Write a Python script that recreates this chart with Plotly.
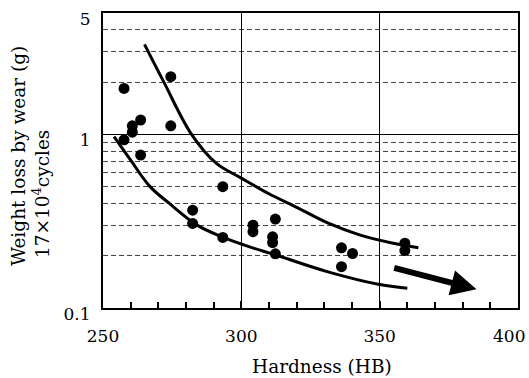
import numpy as np
import plotly.graph_objects as go

# Data points: hardness (HB) vs weight loss (g)
hardness = [257.6, 274.5, 257.6, 260.6, 260.6, 263.6, 274.5, 263.6, 293.3,
            282.4, 282.4, 293.3, 304.2, 304.2, 312.3, 311.3, 311.3, 312.3,
            336.2, 340.2, 336.2, 359.1, 359.1]
weight_loss = [1.84, 2.15, 0.93, 1.03, 1.12, 1.21, 1.12, 0.76, 0.50,
               0.366, 0.307, 0.255, 0.30, 0.275, 0.325, 0.257, 0.238, 0.205,
               0.222, 0.206, 0.173, 0.236, 0.214]

# Upper band curve
upper_x = [265, 272, 282, 291, 300, 310, 320, 331, 343, 355, 364]
upper_y = [3.3, 2.0, 1.0, 0.68, 0.56, 0.455, 0.38, 0.31, 0.263, 0.236, 0.222]

# Lower band curve
lower_x = [254, 260, 267, 274, 284, 293, 303, 312, 331, 349.5, 360]
lower_y = [0.97, 0.71, 0.5, 0.4, 0.3, 0.257, 0.225, 0.203, 0.162, 0.137, 0.130]

# Trend arrow (start, end)
arrow_x = [354.7, 385.0]
arrow_y = [0.171, 0.128]

x_ticks = [250, 300, 350, 400]
x_ticktext = ["250", "300", "350", "400"]
y_ticks = [0.1, 1, 5]
y_ticktext = ["0.1", "1", "5"]
y_minor = [0.2, 0.3, 0.4, 0.5, 0.6, 0.7, 0.8, 0.9, 2, 3, 4]

FONT = "DejaVu Serif"

fig = go.Figure()
fig.add_trace(go.Scatter(x=upper_x, y=upper_y, mode="lines",
                         line=dict(color="black", width=3, shape="spline", smoothing=1.0),
                         showlegend=False, hoverinfo="skip"))
fig.add_trace(go.Scatter(x=lower_x, y=lower_y, mode="lines",
                         line=dict(color="black", width=3, shape="spline", smoothing=1.0),
                         showlegend=False, hoverinfo="skip"))
fig.add_trace(go.Scatter(x=hardness, y=weight_loss, mode="markers",
                         marker=dict(color="black", size=11),
                         showlegend=False))

fig.add_annotation(x=arrow_x[1], y=np.log10(arrow_y[1]),
                   ax=arrow_x[0], ay=np.log10(arrow_y[0]),
                   xref="x", yref="y", axref="x", ayref="y",
                   text="", showarrow=True, arrowhead=2, arrowsize=0.85,
                   arrowwidth=6, arrowcolor="black", standoff=0, startstandoff=0)

# last x tick label sits flush against the right edge of the page
fig.add_annotation(text=x_ticktext[-1], xref="paper", yref="paper",
                   x=1.0217, y=-0.0935, xanchor="right", yanchor="middle",
                   showarrow=False, font=dict(size=17, color="black", family=FONT))

fig.add_annotation(text="Hardness (HB)", xref="paper", yref="paper",
                   x=0.528, y=-0.198, xanchor="center", yanchor="middle",
                   showarrow=False, font=dict(size=18.5, color="black", family=FONT))
fig.add_annotation(text="Weight loss by wear (g)", xref="paper", yref="paper",
                   x=-0.2048, y=0.515, xanchor="center", yanchor="middle",
                   textangle=-90, showarrow=False,
                   font=dict(size=18.5, color="black", family=FONT))
fig.add_annotation(text="17×10<sup>4</sup>cycles", xref="paper", yref="paper",
                   x=-0.1480, y=0.385, xanchor="center", yanchor="middle",
                   textangle=-90, showarrow=False,
                   font=dict(size=18.5, color="black", family=FONT))

fig.update_layout(
    width=529, height=378,
    margin=dict(l=103, r=11, t=13, b=70, autoexpand=False),
    paper_bgcolor="white", plot_bgcolor="white",
    font=dict(family=FONT, size=17, color="black"),
    xaxis=dict(range=[250, 400], tickvals=x_ticks[:-1], ticktext=x_ticktext[:-1],
               ticks="inside", ticklen=7, automargin=False,
               tickcolor="black", tickwidth=1.5,
               showgrid=True, gridcolor="black", gridwidth=1,
               showline=True, linecolor="black", linewidth=2, mirror=True,
               ticklabelstandoff=12, zeroline=False,
               minor=dict(dtick=10, tick0=250, ticks="inside", ticklen=6,
                          tickcolor="black", tickwidth=1.5, showgrid=False)),
    yaxis=dict(type="log", range=[-1.0001, np.log10(5) + 0.0002], tickvals=y_ticks,
               ticktext=y_ticktext, ticks="", automargin=False,
               showgrid=True, gridcolor="black", gridwidth=1,
               showline=True, linecolor="black", linewidth=2, mirror=True,
               ticklabelshift=6, ticklabelstandoff=7, ticklabeloverflow="allow",
               zeroline=False,
               minor=dict(tickvals=y_minor, showgrid=True, gridcolor="#444",
                          gridwidth=1, griddash="5px,3px", ticks="")),
)

fig.write_html("out.html")
